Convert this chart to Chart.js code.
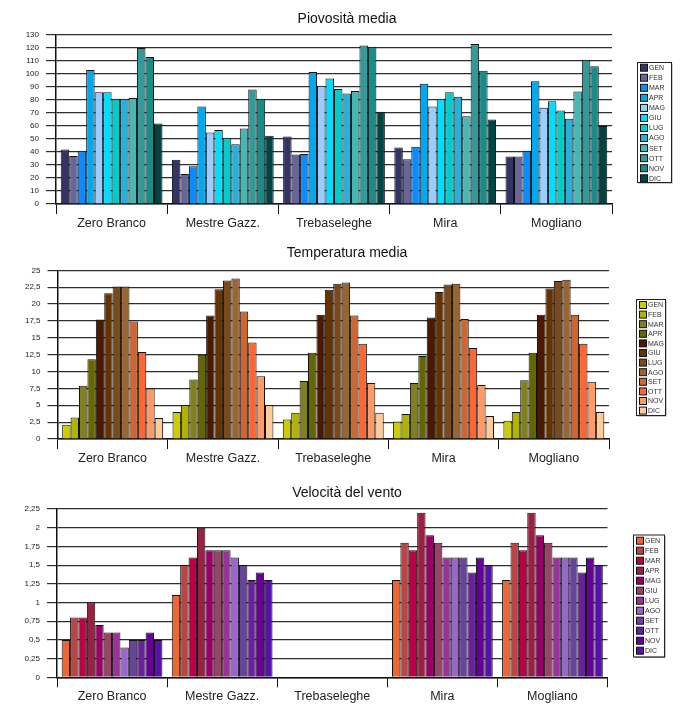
<!DOCTYPE html>
<html>
<head>
<meta charset="utf-8">
<script src="https://cdn.jsdelivr.net/npm/chart.js@4"></script>
<style>
  html, body { margin: 0; padding: 0; background: #fff; }
  .wrap { position: absolute; left: 0; width: 700px; height: 235px; }
</style>
</head>
<body>
<div class="wrap" style="top:0px"><canvas id="c1" width="700" height="235"></canvas></div>
<div class="wrap" style="top:235px"><canvas id="c2" width="700" height="235"></canvas></div>
<div class="wrap" style="top:470px"><canvas id="c3" width="700" height="235"></canvas></div>
<script>
// ---- Data ----
const stations = ['Zero Branco', 'Mestre Gazz.', 'Trebaseleghe', 'Mira', 'Mogliano'];
const months = ['GEN','FEB','MAR','APR','MAG','GIU','LUG','AGO','SET','OTT','NOV','DIC'];

// Piovosità media (mm) per stazione, GEN..DIC
const rainZeroBranco   = [42, 37, 41, 103, 86, 86, 81, 81, 81.5, 120, 113, 62];
const rainMestre       = [34, 23, 29, 75, 55, 57, 51, 46, 58, 88, 81, 52.5];
const rainTrebaseleghe = [52, 38, 38.5, 101.5, 91, 96.5, 88.5, 85, 87, 122, 121, 71];
const rainMira         = [43.5, 34.5, 44, 92.5, 75, 81, 86, 82.5, 67.5, 123, 102.5, 65];
const rainMogliano     = [36.5, 36.5, 41, 94.5, 74, 79, 72, 65.5, 86.5, 111, 106, 60];

// Temperatura media (°C)
const tempZeroBranco   = [2.1, 3.2, 7.9, 11.8, 17.7, 21.6, 22.6, 22.6, 17.4, 12.9, 7.5, 3.1];
const tempMestre       = [4.0, 5.0, 8.8, 12.5, 18.3, 22.2, 23.5, 23.8, 18.9, 14.3, 9.3, 5.0];
const tempTrebaseleghe = [2.9, 3.9, 8.6, 12.8, 18.4, 22.1, 23.0, 23.2, 18.3, 14.1, 8.3, 3.9];
const tempMira         = [2.6, 3.7, 8.3, 12.3, 18.0, 21.8, 22.9, 23.0, 17.8, 13.5, 8.0, 3.4];
const tempMogliano     = [2.7, 4.0, 8.7, 12.8, 18.4, 22.3, 23.4, 23.6, 18.4, 14.1, 8.5, 4.0];

// Velocità del vento (m/s)
const windZeroBranco   = [0.5, 0.8, 0.8, 1.0, 0.7, 0.6, 0.6, 0.4, 0.5, 0.5, 0.6, 0.5];
const windMestre       = [1.1, 1.5, 1.6, 2.0, 1.7, 1.7, 1.7, 1.6, 1.5, 1.3, 1.4, 1.3];
const windTrebaseleghe = [null, null, null, null, null, null, null, null, null, null, null, null];
const windMira         = [1.3, 1.8, 1.7, 2.2, 1.9, 1.8, 1.6, 1.6, 1.6, 1.4, 1.6, 1.5];
const windMogliano     = [1.3, 1.8, 1.7, 2.2, 1.9, 1.8, 1.6, 1.6, 1.6, 1.4, 1.6, 1.5];

// ---- Colours ----
const rainColors = ['#333366','#666699','#0A8CFF','#00A8F0','#99CCFF','#00DDFF','#00CCCC','#2AB0D8','#46B8B4','#339999','#1A8C88','#004444'];
const tempColors = ['#CCCC00','#B2B200','#808020','#666600','#4D1800','#663300','#7A4A1E','#996633','#CC6633','#FF6633','#FF9966','#FFCC99'];
const windColors = ['#EE6633','#BB4444','#BB0044','#992244','#990066','#994466','#993399','#9966CC','#664499','#662299','#660099','#5511AA'];

function buildDatasets(rows, colors) {
  return months.map((m, i) => ({
    label: m,
    data: rows.map(r => r[i]),
    backgroundColor: colors[i],
    borderColor: '#111',
    borderWidth: 1,
    borderSkipped: 'bottom',
    categoryPercentage: 0.915,
    barPercentage: 1.0
  }));
}

const fontFam = '"Liberation Sans", Arial, Helvetica, sans-serif';

// legend drawn from datasets (custom boxed legend)
const boxLegend = {
  id: 'boxLegend',
  afterDraw(chart, args, opts) {
    const ctx = chart.ctx;
    ctx.save();
    ctx.fillStyle = '#999';
    ctx.fillRect(opts.x + 1.5, opts.y + 1.5, opts.w, opts.h);
    ctx.fillStyle = '#fff';
    ctx.fillRect(opts.x, opts.y, opts.w, opts.h);
    ctx.strokeStyle = '#222';
    ctx.lineWidth = 1;
    ctx.strokeRect(opts.x + 0.5, opts.y + 0.5, opts.w, opts.h);
    ctx.font = '7px ' + fontFam;
    ctx.textBaseline = 'middle';
    ctx.textAlign = 'left';
    chart.data.datasets.forEach((ds, i) => {
      const cy = opts.first + i * opts.step;
      ctx.fillStyle = ds.backgroundColor;
      ctx.fillRect(opts.x + 3, cy - 3.5, 7, 7);
      ctx.strokeStyle = '#111';
      ctx.strokeRect(opts.x + 3.5, cy - 3.5, 7, 7);
      ctx.fillStyle = '#333';
      ctx.fillText(ds.label, opts.x + 12, cy + 0.5);
    });
    ctx.restore();
  }
};

function makeChart(id, title, rows, colors, yMax, yStep, area, titleCenter, legend) {
  const fmt = v => String(v).replace('.', ',');
  const titleSize = 14;
  const titleH = titleSize * 1.2;
  const padTop = titleCenter - titleH / 2;
  const padBottom = area.top - (padTop + titleH);
  const padRight = 6;
  return new Chart(document.getElementById(id), {
    type: 'bar',
    data: { labels: stations, datasets: buildDatasets(rows, colors) },
    options: {
      responsive: false,
      animation: false,
      layout: { padding: { left: 0, right: padRight, top: 0, bottom: 0 } },
      plugins: {
        legend: { display: false },
        tooltip: { enabled: false },
        title: {
          display: true, text: title, color: '#111',
          font: { family: fontFam, size: titleSize, weight: 'normal' },
          padding: { top: padTop, bottom: padBottom }
        },
        boxLegend: legend
      },
      scales: {
        x: {
          offset: true,
          grid: { offset: true, drawOnChartArea: false, drawTicks: true, tickLength: 10, color: '#111', lineWidth: 1 },
          border: { display: true, color: '#111', width: 1.5 },
          ticks: { color: '#222', font: { family: fontFam, size: 12.5 }, padding: 2, maxRotation: 0 },
          afterFit: s => { s.height = 235 - area.bottom; }
        },
        y: {
          min: 0, max: yMax,
          grid: { color: '#2e2e2e', lineWidth: 1.2, tickLength: 10, drawTicks: true },
          border: { display: true, color: '#111', width: 1.5 },
          ticks: { stepSize: yStep, color: '#222', font: { family: fontFam, size: 8 }, padding: 7, callback: v => fmt(v) },
          afterFit: s => { s.width = area.left; }
        },
        space: {
          position: 'right', display: true,
          grid: { display: false }, border: { display: false },
          ticks: { display: false },
          afterFit: s => { s.width = 700 - padRight - area.right; }
        }
      }
    },
    plugins: [boxLegend]
  });
}

makeChart('c1', 'Piovosità media',
  [rainZeroBranco, rainMestre, rainTrebaseleghe, rainMira, rainMogliano], rainColors,
  130, 10, { left: 56, right: 612, top: 35, bottom: 204 }, 19.3,
  { x: 637, y: 62, w: 34, h: 120, first: 67.7, step: 10.05 });

makeChart('c2', 'Temperatura media',
  [tempZeroBranco, tempMestre, tempTrebaseleghe, tempMira, tempMogliano], tempColors,
  25, 2.5, { left: 57.5, right: 609, top: 35.3, bottom: 204 }, 17.7,
  { x: 636, y: 64, w: 29, h: 116, first: 70, step: 9.6 });

makeChart('c3', 'Velocità del vento',
  [windZeroBranco, windMestre, windTrebaseleghe, windMira, windMogliano], windColors,
  2.25, 0.25, { left: 57, right: 607.5, top: 39, bottom: 207.3 }, 22.7,
  { x: 633, y: 64.5, w: 31, h: 122, first: 70.7, step: 10 });
</script>
</body>
</html>
